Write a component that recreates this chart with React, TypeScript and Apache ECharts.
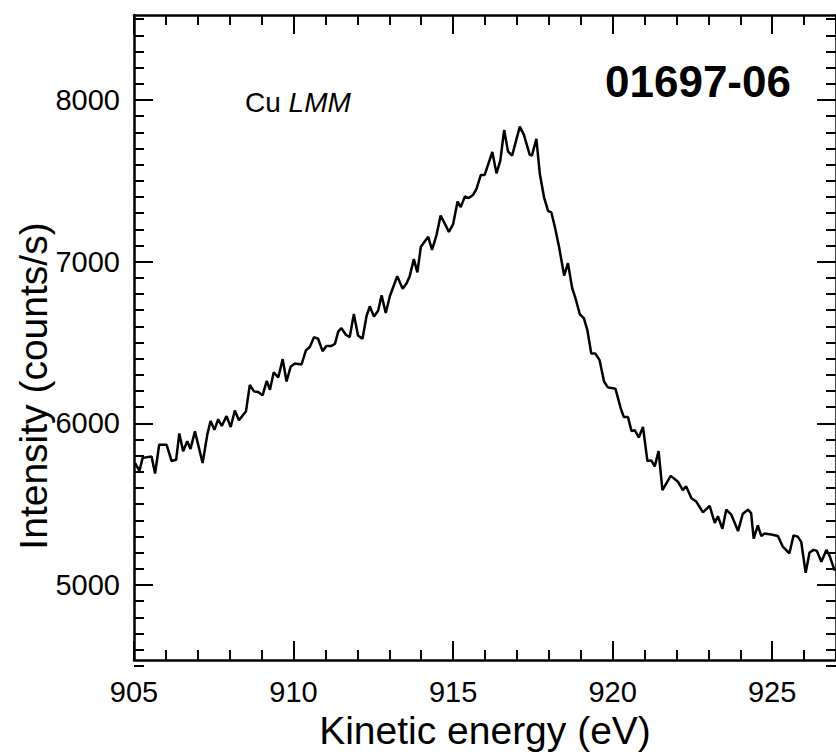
import React, { useEffect, useRef } from "react";
import * as echarts from "echarts";

const energy = [
  905.03, 905.17, 905.27, 905.55, 905.66, 905.79, 906.02, 906.18, 906.32, 906.42,
  906.54, 906.67, 906.77, 906.91, 907.15, 907.3, 907.4, 907.52, 907.64, 907.75,
  907.9, 908.03, 908.16, 908.29, 908.51, 908.63, 908.76, 908.89, 909.03, 909.16,
  909.26, 909.38, 909.52, 909.66, 909.78, 909.91, 910.04, 910.25, 910.39, 910.51,
  910.64, 910.77, 910.91, 911.03, 911.19, 911.3, 911.4, 911.5, 911.64, 911.76,
  911.89, 912.02, 912.16, 912.29, 912.39, 912.52, 912.65, 912.76, 912.89, 913.02,
  913.25, 913.42, 913.54, 913.64, 913.77, 913.88, 913.99, 914.22, 914.34, 914.48,
  914.61, 914.87, 915.0, 915.14, 915.24, 915.37, 915.49, 915.63, 915.73, 915.87,
  915.99, 916.23, 916.36, 916.48, 916.6, 916.72, 916.85, 917.09, 917.22, 917.4,
  917.47, 917.61, 917.72, 917.85, 917.98, 918.08, 918.19, 918.32, 918.48, 918.6,
  918.73, 918.83, 918.97, 919.1, 919.21, 919.33, 919.46, 919.59, 919.73, 919.85,
  920.09, 920.25, 920.35, 920.48, 920.59, 920.69, 920.82, 920.95, 921.09, 921.21,
  921.32, 921.44, 921.56, 921.82, 922.05, 922.2, 922.3, 922.47, 922.62, 922.83,
  923.04, 923.2, 923.3, 923.44, 923.56, 923.72, 923.93, 924.08, 924.24, 924.34,
  924.42, 924.55, 924.66, 924.76, 924.97, 925.18, 925.33, 925.54, 925.67, 925.8,
  925.91, 926.05, 926.17, 926.3, 926.4, 926.54, 926.7, 926.8, 926.96,
];

// Intensity (counts/s) at each energy above
const intensity = [
  5716, 5666, 5748, 5757, 5650, 5831, 5831, 5728, 5736, 5901,
  5790, 5852, 5804, 5914, 5716, 5897, 5979, 5924, 5990, 5948,
  6010, 5942, 6045, 5984, 6041, 6206, 6165, 6161, 6140, 6231,
  6175, 6285, 6252, 6367, 6227, 6320, 6340, 6334, 6423, 6443,
  6505, 6495, 6417, 6450, 6450, 6464, 6540, 6561, 6520, 6505,
  6650, 6516, 6495, 6639, 6697, 6635, 6670, 6767, 6656, 6763,
  6887, 6808, 6841, 6887, 6994, 6911, 7072, 7134, 7052, 7145,
  7268, 7165, 7213, 7355, 7320, 7388, 7377, 7398, 7433, 7522,
  7522, 7666, 7532, 7612, 7804, 7670, 7643, 7825, 7773, 7650,
  7643, 7748, 7526, 7382, 7295, 7287, 7196, 7072, 6891, 6969,
  6814, 6753, 6650, 6623, 6547, 6402, 6402, 6361, 6227, 6190,
  6181, 6062, 6004, 6004, 5917, 5922, 5876, 5942, 5728, 5732,
  5695, 5790, 5546, 5635, 5598, 5546, 5570, 5495, 5474, 5406,
  5447, 5340, 5382, 5303, 5423, 5392, 5289, 5398, 5423, 5402,
  5241, 5324, 5258, 5274, 5268, 5258, 5192, 5150, 5262, 5254,
  5221, 5027, 5155, 5171, 5165, 5097, 5171, 5134, 5041,
];

const xRange = [905, 927];
const yFrameRange = [4480, 8525];
const yMinorRange = [4500, 8500];
const yMajorRange = [5000, 8000];
const xMajorStep = 5;
const xMinorStep = 1;
const yMajorStep = 1000;
const yMinorStep = 100;

const sampleLabel = "01697-06";
const transitionElement = "Cu";
const transitionName = "LMM";
const xTitle = "Kinetic energy (eV)";
const yTitle = "Intensity (counts/s)";

const FONT = '"Liberation Sans", Arial, Helvetica, sans-serif';

export default function App() {
  const ref = useRef<HTMLDivElement>(null);

  useEffect(() => {
    if (!ref.current) return;
    const chart = echarts.init(ref.current, null, { renderer: "svg" });

    const L = 134;
    const W = 702.5;
    const black = "#000";
    const lineW = 2.5;

    const hiddenX = (gi: number) => ({
      gridIndex: gi,
      type: "value",
      show: false,
      min: xRange[0],
      max: xRange[1],
    });

    const xTickAxis = (pos: string, step: number, len: number, showLine: boolean) => ({
      gridIndex: 0,
      type: "value",
      position: pos,
      min: xRange[0],
      max: xRange[1],
      interval: step,
      axisLine: { show: showLine, onZero: false, lineStyle: { color: black, width: lineW } },
      axisTick: { show: true, inside: true, length: len, lineStyle: { color: black, width: 2 } },
      axisLabel: { show: false },
      splitLine: { show: false },
    });

    const yAxisBase = (gi: number, pos: string, range: number[], step: number | undefined, len: number, showLine: boolean) => ({
      gridIndex: gi,
      type: "value",
      position: pos,
      min: range[0],
      max: range[1],
      ...(step ? { interval: step } : {}),
      axisLine: { show: showLine, onZero: false, lineStyle: { color: black, width: lineW } },
      axisTick: { show: len > 0, inside: true, length: len, lineStyle: { color: black, width: 2 } },
      axisLabel: { show: false },
      splitLine: { show: false },
    });

    const option: any = {
      animation: false,
      backgroundColor: "#fff",
      grid: [
        { left: L, top: 15, width: W, height: 654 },
        { left: L, top: 19.2, width: W, height: 646.6 },
        { left: L, top: 100, width: W, height: 485 },
      ],
      xAxis: [
        {
          ...xTickAxis("bottom", xMajorStep, 19, true),
          axisLabel: {
            show: true,
            fontSize: 29,
            color: black,
            fontFamily: FONT,
            margin: 17,
            showMaxLabel: false,
            formatter: (v: number) => (v % xMajorStep === 0 ? String(v) : ""),
          },
          name: xTitle,
          nameLocation: "middle",
          nameGap: 42,
          nameTextStyle: { fontSize: 39, color: black, fontFamily: FONT },
        },
        xTickAxis("top", xMajorStep, 19, true),
        xTickAxis("bottom", xMinorStep, 10, false),
        xTickAxis("top", xMinorStep, 10, false),
        hiddenX(1),
        hiddenX(2),
      ],
      yAxis: [
        yAxisBase(0, "left", yFrameRange, undefined, 0, true),
        yAxisBase(0, "right", yFrameRange, undefined, 0, true),
        yAxisBase(1, "left", yMinorRange, yMinorStep, 10, false),
        yAxisBase(1, "right", yMinorRange, yMinorStep, 10, false),
        {
          ...yAxisBase(2, "left", yMajorRange, yMajorStep, 19, false),
          axisLabel: {
            show: true,
            fontSize: 29,
            color: black,
            fontFamily: FONT,
            margin: 14,
            formatter: (v: number) => String(v),
          },
        },
        yAxisBase(2, "right", yMajorRange, yMajorStep, 19, false),
      ],
      series: [
        {
          type: "line",
          xAxisIndex: 0,
          yAxisIndex: 0,
          data: energy.map((e, i) => [e, intensity[i]]),
          showSymbol: false,
          symbol: "none",
          lineStyle: { color: black, width: 2.5 },
          clip: true,
        },
      ],
      graphic: [
        {
          type: "text",
          x: 33,
          y: 386,
          rotation: Math.PI / 2,
          style: {
            text: yTitle,
            fontSize: 39,
            fontFamily: FONT,
            fill: black,
            align: "center",
            verticalAlign: "middle",
          },
        },
        {
          type: "text",
          x: 245,
          y: 102,
          style: {
            text: transitionElement + " {i|" + transitionName + "}",
            fontSize: 28,
            fontFamily: FONT,
            fill: black,
            verticalAlign: "middle",
            rich: { i: { fontStyle: "italic", fontSize: 28, fontFamily: FONT, fill: black } },
          },
        },
        {
          type: "text",
          x: 605,
          y: 81,
          style: {
            text: sampleLabel,
            fontSize: 44,
            fontWeight: "bold",
            fontFamily: FONT,
            fill: black,
            verticalAlign: "middle",
          },
        },
      ],
    };

    chart.setOption(option);
    return () => chart.dispose();
  }, []);

  return (
    <div
      ref={ref}
      style={{ position: "fixed", left: 0, top: 0, width: 836, height: 755, background: "#fff" }}
    />
  );
}
